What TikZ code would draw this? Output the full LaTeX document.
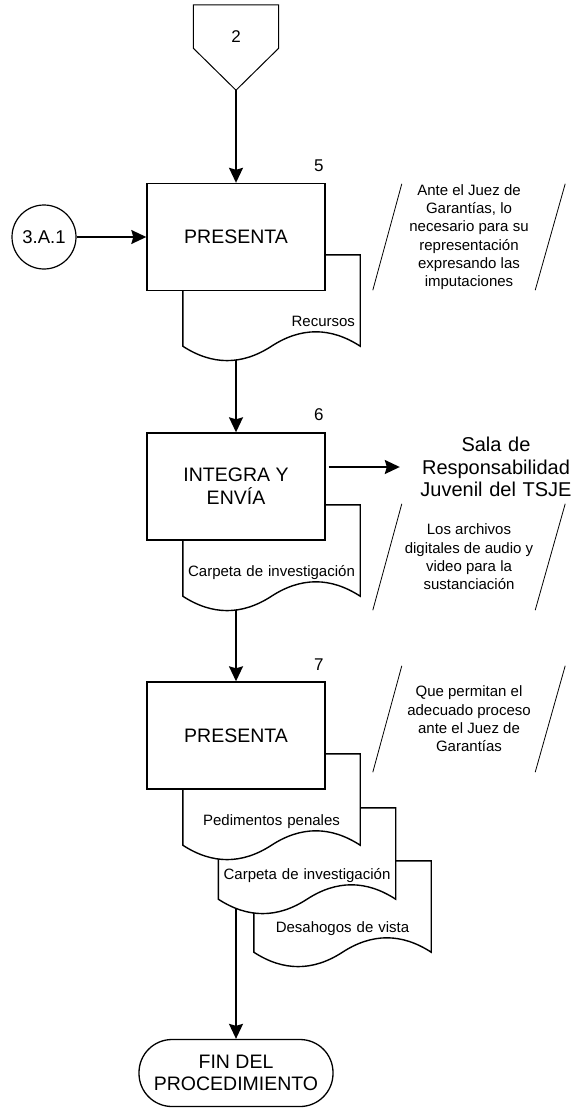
\documentclass[tikz,border=0pt]{standalone}
\usepackage{fontspec}
\setmainfont{Liberation Sans}
\usetikzlibrary{arrows.meta,positioning,calc,backgrounds}
\definecolor{Ink}{HTML}{000000}
\definecolor{Paper}{HTML}{FFFFFF}
\tikzset{
  flow/.style={draw=Ink,line width=1.6pt,-{Stealth[length=15pt,width=14pt,inset=2pt]}},
  procbox/.style={rectangle,draw=Ink,fill=Paper,line width=1.4pt,minimum width=178pt,minimum height=107pt,align=center,font=\fontsize{19.5}{23}\selectfont},
  docnode/.style={rectangle,inner xsep=5pt,inner ysep=0pt,text width=167pt,text height=71pt,text depth=36pt,align=center,font=\fontsize{15}{18}\selectfont},
  docline/.style={draw=Ink,fill=Paper,line width=1.4pt},
  stepnum/.style={anchor=south east,inner sep=0pt,font=\fontsize{17}{20}\selectfont},
  notebox/.style={rectangle,minimum width=192pt,minimum height=106pt,inner sep=0pt,align=center,font=\fontsize{15}{18.3}\selectfont},
  noteline/.style={draw=Ink,line width=0.8pt},
}
\newcommand{\docshape}[1]{%
  \draw[docline] (#1.north west) -- (#1.north east) -- ([yshift=16pt]#1.south east)
    .. controls +(-29.5,19.2) and +(29.5,19.2) .. ([yshift=16pt]#1.south)
    .. controls +(-29.5,-19.2) and +(29.5,-19.2) .. ([yshift=16pt]#1.south west) -- cycle;}
\newcommand{\notesides}[1]{%
  \draw[noteline] ([xshift=29pt]#1.north west) -- (#1.south west)
    (#1.north east) -- ([xshift=-30pt]#1.south east);}

\begin{document}
\begin{tikzpicture}[x=1pt,y=1pt,
  offpage/.style={rectangle,minimum width=85pt,inner sep=0pt,text height=38pt,text depth=47pt,font=\fontsize{17}{20}\selectfont},
  shapeline/.style={draw=Ink,line width=1pt},
  conn/.style={circle,draw=Ink,fill=Paper,line width=1.2pt,minimum size=64pt,inner sep=0pt,font=\fontsize{18.5}{22}\selectfont},
  endbox/.style={rectangle,rounded corners=33pt,draw=Ink,fill=Paper,line width=1.3pt,minimum width=194pt,minimum height=67pt,align=center,font=\fontsize{19.5}{22.3}\selectfont},
  entity/.style={rectangle,inner sep=0pt,text width=192pt,align=center,font=\fontsize{20}{22.5}\selectfont}]
\path[use as bounding box] (0,0) rectangle (571,-1110);

\node[offpage] (ref2) at (236,-47.5) {2};
\draw[shapeline] (ref2.north west) -- (ref2.north east) -- ([yshift=42pt]ref2.south east) -- (ref2.south) -- ([yshift=42pt]ref2.south west) -- cycle;

\node[procbox] (box5) at (236,-237) {PRESENTA};
\node[stepnum] (num5) at ([xshift=-2pt,yshift=11pt]box5.north east) {5};
\node[conn] (c3a1) at (44,-237) {3.A.1};
\node[docnode,align=right] (doc5) at (271.5,-308.5) {Recursos};
\node[notebox] (note5) at (469,-237) {Ante el Juez de\\Garantías, lo\\necesario para su\\representación\\expresando las\\imputaciones};
\notesides{note5}

\node[procbox] (box6) at (236,-486.5) {INTEGRA Y\\ENVÍA};
\node[stepnum] (num6) at ([xshift=-2pt,yshift=11pt]box6.north east) {6};
\node[docnode] (doc6) at (271.5,-558.5) {Carpeta de investigación};
\node[entity] (sala) at (496,-467) {Sala de\\Responsabilidad\\Juvenil del TSJE};
\node[notebox] (note6) at (469,-557) {Los archivos\\digitales de audio y\\video para la\\sustanciación};
\notesides{note6}

\node[procbox] (box7) at (236,-735.5) {PRESENTA};
\node[stepnum] (num7) at ([xshift=-2pt,yshift=11pt]box7.north east) {7};
\node[docnode] (doc7a) at (271.5,-807.5) {Pedimentos penales};
\node[docnode] (doc7b) at (307,-861.5) {Carpeta de investigación};
\node[docnode] (doc7c) at (342.5,-914.5) {Desahogos de vista};
\node[notebox] (note7) at (469,-719) {Que permitan el\\adecuado proceso\\ante el Juez de\\Garantías};
\notesides{note7}

\node[endbox] (fin) at (236,-1073) {FIN DEL\\PROCEDIMIENTO};

\begin{scope}[on background layer]
\fill[Paper] (0,0) rectangle (571,-1110);
\draw[flow] (ref2.south) -- (box5.north);
\draw[flow] (c3a1) -- (box5);
\draw[flow] (box5) -- (box6);
\draw[flow] (box6) -- (box7);
\draw[flow] (box7) -- (fin);
\draw[flow] ([xshift=3pt]box6.east |- sala.west) -- (sala.west);
\docshape{doc5}
\docshape{doc6}
\docshape{doc7c}
\docshape{doc7b}
\docshape{doc7a}
\end{scope}
\end{tikzpicture}
\end{document}
